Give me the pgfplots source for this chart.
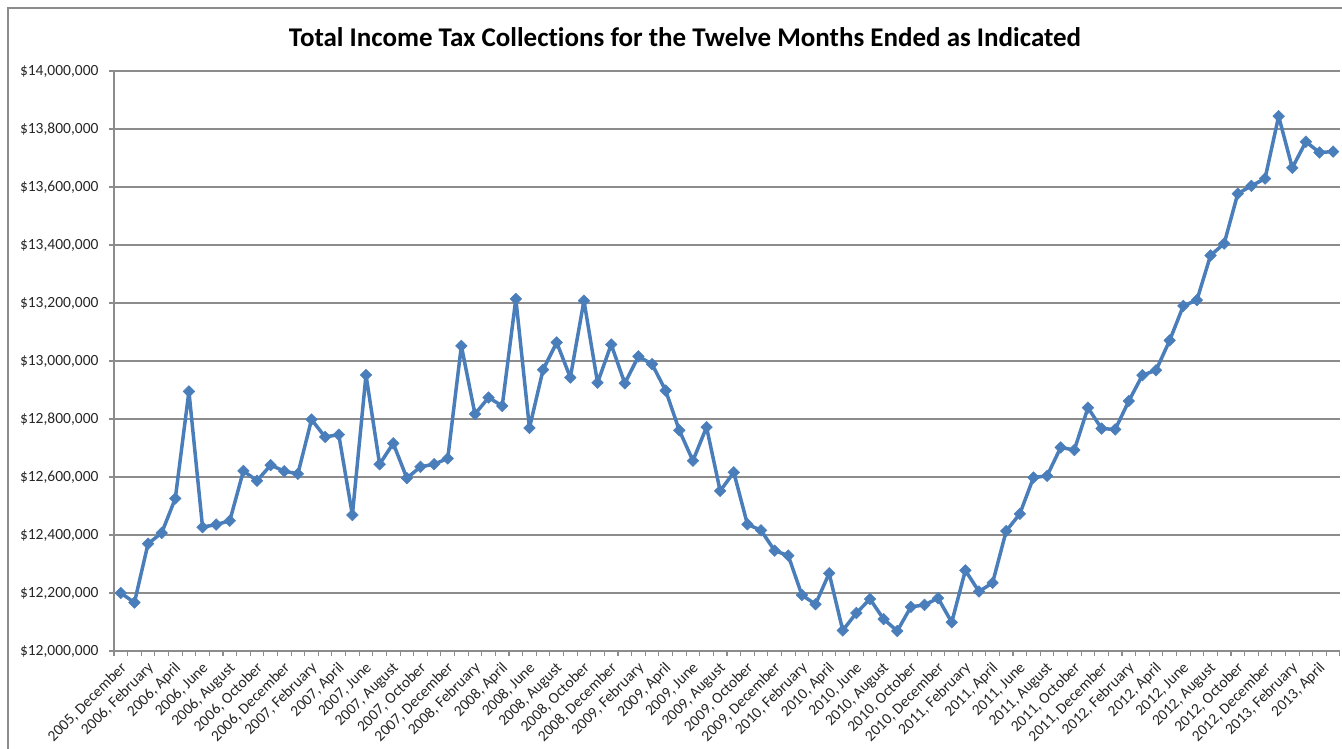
\documentclass[border=0pt]{standalone}
\usepackage{pgfplots}
\pgfplotsset{compat=1.18}
\usepackage{pgfplotstable}
\usepackage{fontspec}
\setmainfont{Carlito}[Ligatures={NoCommon}]
\definecolor{linebl}{HTML}{4A7EBB}
\definecolor{gridg}{HTML}{8C8C8C}
\pgfplotstableread{
x y
0 12200000
1 12167000
2 12370000
3 12407000
4 12526000
5 12895000
6 12427000
7 12436000
8 12449000
9 12621000
10 12587000
11 12641000
12 12620000
13 12611000
14 12798000
15 12738000
16 12746000
17 12469000
18 12952000
19 12644000
20 12716000
21 12596000
22 12635000
23 12644000
24 12664000
25 13052000
26 12817000
27 12874000
28 12845000
29 13214000
30 12769000
31 12970000
32 13064000
33 12943000
34 13208000
35 12925000
36 13057000
37 12923000
38 13016000
39 12989000
40 12898000
41 12761000
42 12656000
43 12772000
44 12552000
45 12616000
46 12437000
47 12416000
48 12346000
49 12329000
50 12193000
51 12161000
52 12268000
53 12071000
54 12131000
55 12179000
56 12110000
57 12069000
58 12152000
59 12159000
60 12182000
61 12099000
62 12278000
63 12205000
64 12235000
65 12414000
66 12473000
67 12598000
68 12604000
69 12702000
70 12693000
71 12839000
72 12767000
73 12764000
74 12862000
75 12951000
76 12968000
77 13071000
78 13190000
79 13210000
80 13364000
81 13405000
82 13577000
83 13604000
84 13629000
85 13844000
86 13666000
87 13756000
88 13719000
89 13722000
}\datatable
\begin{document}
\begin{tikzpicture}[x=1pt,y=1pt]
\path[use as bounding box] (0,0) rectangle (1342,749);
\draw[gridg, line width=1.6pt] (8,-5) -- (8,741) -- (1350,741);
\node[font=\fontsize{27}{32}\selectfont\bfseries] at (685,712) {Total Income Tax Collections for the Twelve Months Ended as Indicated};
\begin{axis}[
  at={(114pt,98pt)}, anchor=south west,
  scale only axis, width=1226pt, height=580pt,
  xmin=-0.5, xmax=89.5,
  ymin=12000000, ymax=14000000,
  axis x line*=bottom, axis y line*=left,
  axis line style={gridg, line width=1.3pt},
  tick align=outside,
  xtick={0,2,...,88},
  minor xtick={-0.5,0.5,...,89.5},
  major x tick style={draw=none},
  minor x tick style={gridg, line width=1.1pt},
  minor tick length=5pt,
  major tick length=5pt,
  y tick style={gridg, line width=1.3pt},
  ytick={12000000,12200000,...,14000000},
  scaled y ticks=false,
  yticklabels={{\$12,000,000},{\$12,200,000},{\$12,400,000},{\$12,600,000},{\$12,800,000},{\$13,000,000},{\$13,200,000},{\$13,400,000},{\$13,600,000},{\$13,800,000},{\$14,000,000}},
  xticklabels={{2005, December},{2006, February},{2006, April},{2006, June},{2006, August},{2006, October},{2006, December},{2007, February},{2007, April},{2007, June},{2007, August},{2007, October},{2007, December},{2008, February},{2008, April},{2008, June},{2008, August},{2008, October},{2008, December},{2009, February},{2009, April},{2009, June},{2009, August},{2009, October},{2009, December},{2010, February},{2010, April},{2010, June},{2010, August},{2010, October},{2010, December},{2011, February},{2011, April},{2011, June},{2011, August},{2011, October},{2011, December},{2012, February},{2012, April},{2012, June},{2012, August},{2012, October},{2012, December},{2013, February},{2013, April}},
  ymajorgrids,
  grid style={gridg, line width=1.3pt},
  ticklabel style={font=\fontsize{15.5}{19}\selectfont, text=black!85},
  yticklabel style={xshift=-7pt},
  xticklabel style={xshift=4pt, yshift=-9pt, rotate=45, anchor=east, inner sep=1pt},
  /pgf/number format/assume math mode=true,
  clip=false,
]
\addplot[linebl, line width=3.5pt, line join=round, mark=square*, mark size=4.1pt, mark options={rotate=45, fill=linebl, draw=linebl, line width=0.5pt, line join=miter}] table[x=x,y=y] {\datatable};
\end{axis}
\end{tikzpicture}
\end{document}
